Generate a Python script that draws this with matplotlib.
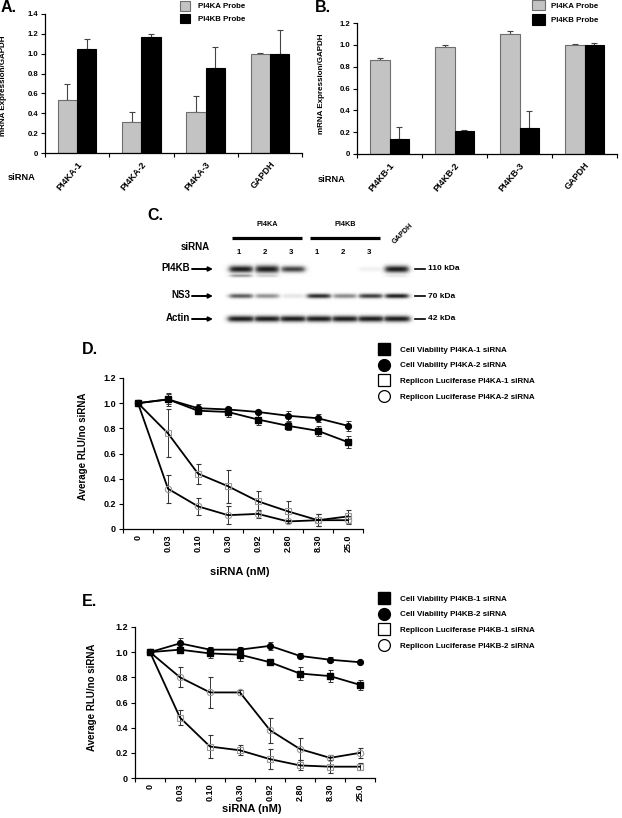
import numpy as np
import matplotlib
matplotlib.use('Agg')
import matplotlib.pyplot as plt
from matplotlib.lines import Line2D
from matplotlib.patches import Patch

plt.rcParams['font.family'] = ['Liberation Sans', 'DejaVu Sans']
plt.rcParams['font.weight'] = 'bold'
plt.rcParams['axes.labelweight'] = 'bold'

# ---------------- data ----------------
probe_labels = ['PI4KA Probe', 'PI4KB Probe']

a_categories = ['PI4KA-1', 'PI4KA-2', 'PI4KA-3', 'GAPDH']
a_pi4ka_probe = [0.53, 0.31, 0.41, 1.00]
a_pi4ka_err = [0.16, 0.10, 0.16, 0.01]
a_pi4kb_probe = [1.05, 1.17, 0.86, 1.00]
a_pi4kb_err = [0.10, 0.03, 0.21, 0.24]
a_yticks = ['0', '0.2', '0.4', '0.6', '0.8', '1.0', '1.2', '1.4']

b_categories = ['PI4KB-1', 'PI4KB-2', 'PI4KB-3', 'GAPDH']
b_pi4ka_probe = [0.86, 0.98, 1.10, 1.00]
b_pi4ka_err = [0.02, 0.02, 0.03, 0.01]
b_pi4kb_probe = [0.14, 0.21, 0.24, 1.00]
b_pi4kb_err = [0.11, 0.01, 0.15, 0.02]
b_yticks = ['0', '0.2', '0.4', '0.6', '0.8', '1.0', '1.2']

# western blot (band darkness per lane: PI4KA-1,2,3, PI4KB-1,2,3, GAPDH)
blot_groups = ['PI4KA', 'PI4KB']
blot_lane_numbers = ['1', '2', '3', '1', '2', '3']
blot_rows = ['PI4KB', 'NS3', 'Actin']
blot_sizes = ['110 kDa', '70 kDa', '42 kDa']
band_pi4kb = [0.88, 1.00, 0.72, 0.00, 0.00, 0.06, 0.88]
band_pi4kb_lower = [0.40, 0.20, 0.00, 0.00, 0.00, 0.00, 0.10]
band_ns3 = [0.62, 0.42, 0.10, 0.82, 0.45, 0.75, 0.88]
band_actin = [0.97, 0.97, 0.97, 0.97, 0.93, 0.94, 0.97]

conc_labels = ['0', '0.03', '0.10', '0.30', '0.92', '2.80', '8.30', '25.0']
d_labels = ['Cell Viability PI4KA-1 siRNA', 'Cell Viability PI4KA-2 siRNA',
            'Replicon Luciferase PI4KA-1 siRNA', 'Replicon Luciferase PI4KA-2 siRNA']
d_via1 = [1.00, 1.03, 0.94, 0.93, 0.87, 0.82, 0.78, 0.69]
d_via1_err = [0.01, 0.04, 0.02, 0.04, 0.04, 0.03, 0.04, 0.05]
d_via2 = [1.00, 1.03, 0.96, 0.95, 0.93, 0.90, 0.88, 0.82]
d_via2_err = [0.01, 0.05, 0.03, 0.02, 0.01, 0.04, 0.03, 0.04]
d_rep1 = [1.00, 0.76, 0.44, 0.34, 0.22, 0.14, 0.07, 0.10]
d_rep1_err = [0.01, 0.19, 0.08, 0.13, 0.08, 0.08, 0.05, 0.05]
d_rep2 = [1.00, 0.32, 0.18, 0.11, 0.12, 0.06, 0.07, 0.07]
d_rep2_err = [0.01, 0.11, 0.07, 0.07, 0.03, 0.01, 0.05, 0.03]

e_labels = ['Cell Viability PI4KB-1 siRNA', 'Cell Viability PI4KB-2 siRNA',
            'Replicon Luciferase PI4KB-1 siRNA', 'Replicon Luciferase PI4KB-2 siRNA']
e_via1 = [1.00, 1.02, 0.99, 0.98, 0.92, 0.83, 0.81, 0.74]
e_via1_err = [0.01, 0.02, 0.04, 0.05, 0.02, 0.05, 0.05, 0.04]
e_via2 = [1.00, 1.07, 1.02, 1.02, 1.05, 0.97, 0.94, 0.92]
e_via2_err = [0.01, 0.04, 0.02, 0.02, 0.03, 0.02, 0.02, 0.01]
e_rep1 = [1.00, 0.48, 0.25, 0.22, 0.15, 0.10, 0.09, 0.09]
e_rep1_err = [0.01, 0.06, 0.09, 0.04, 0.08, 0.04, 0.05, 0.03]
e_rep2 = [1.00, 0.80, 0.68, 0.68, 0.38, 0.23, 0.16, 0.20]
e_rep2_err = [0.01, 0.08, 0.12, 0.02, 0.10, 0.09, 0.02, 0.04]
line_yticks = ['0', '0.2', '0.4', '0.6', '0.8', '1.0', '1.2']

# ---------------- layout ----------------
W, H = 622, 818
fig = plt.figure(figsize=(W / 100, H / 100), dpi=100)

ov = fig.add_axes([0, 0, 1, 1])
ov.set_xlim(0, W)
ov.set_ylim(H, 0)
ov.axis('off')


def px_axes(l, t, r, b):
    return fig.add_axes([l / W, 1 - b / H, (r - l) / W, (b - t) / H])


def style_axes(ax, fs_tick):
    for s in ('top', 'right'):
        ax.spines[s].set_visible(False)
    for s in ('left', 'bottom'):
        ax.spines[s].set_linewidth(0.9)
    ax.tick_params(which='major', direction='out', length=3, width=0.8,
                   labelsize=fs_tick, pad=2)


GRAY = '#c3c3c3'
GRAY_EDGE = '#6e6e6e'


def bar_panel(box, cats, v1, e1, v2, e2, yticks, ymax, lab_pos, sirna_pos):
    ax = px_axes(*box)
    n = len(cats)
    x = np.arange(n) + 0.5
    w = 0.3
    ax.bar(x - w / 2, v1, w, color=GRAY, edgecolor=GRAY_EDGE, lw=0.8, zorder=2)
    ax.bar(x + w / 2, v2, w, color='black', edgecolor='black', lw=0.8, zorder=2)
    z = np.zeros(n)
    ax.errorbar(x - w / 2, v1, yerr=[z, e1], fmt='none', ecolor='#444444',
                elinewidth=0.8, capsize=2.2, capthick=0.8, zorder=1)
    ax.errorbar(x + w / 2, v2, yerr=[z, e2], fmt='none', ecolor='#444444',
                elinewidth=0.8, capsize=2.2, capthick=0.8, zorder=1)
    ax.set_xlim(0, n)
    ax.set_ylim(0, ymax)
    ax.set_yticks(np.arange(len(yticks)) * 0.2)
    ax.set_yticklabels(yticks)
    ax.set_xticks(np.arange(n + 1))
    ax.set_xticklabels([])
    ax.set_xticks(x, minor=True)
    ax.set_xticklabels(cats, minor=True, rotation=50, ha='right', va='top',
                       rotation_mode='anchor', fontsize=6.5)
    style_axes(ax, 5.6)
    ax.tick_params(which='minor', length=0, pad=5)
    l, t, r, b = box
    ax.set_ylabel('mRNA Expression/GAPDH', fontsize=5.8)
    ax.yaxis.set_label_coords((lab_pos[0] - l) / (r - l), (b - lab_pos[1]) / (b - t))
    ov.text(sirna_pos[0], sirna_pos[1], 'siRNA', fontsize=6.7, ha='center', va='center')
    return ax


# Panel A
bar_panel((45, 14, 302, 153), a_categories, a_pi4ka_probe, a_pi4ka_err,
          a_pi4kb_probe, a_pi4kb_err, a_yticks, 1.4, (7, 86), (22, 177))
ov.text(1, 8, 'A.', fontsize=11.5, ha='left', va='center')
hA = [Patch(facecolor=GRAY, edgecolor=GRAY_EDGE, lw=0.8),
      Patch(facecolor='black', edgecolor='black', lw=0.8)]
fig.legend(hA, probe_labels, loc='upper left', bbox_to_anchor=(180 / W, 1 - 1 / H),
           frameon=False, fontsize=5.7, handlelength=1.3, handleheight=1.5,
           handletextpad=1.0, labelspacing=0.4, borderpad=0, borderaxespad=0)

# Panel B
bar_panel((357, 23, 617, 154), b_categories, b_pi4ka_probe, b_pi4ka_err,
          b_pi4kb_probe, b_pi4kb_err, b_yticks, 1.2, (325, 84), (332, 180))
ov.text(315, 8, 'B.', fontsize=11.5, ha='left', va='center')
fig.legend(hA, probe_labels, loc='upper left', bbox_to_anchor=(532 / W, 1 - 0 / H),
           frameon=False, fontsize=5.7, handlelength=1.6, handleheight=1.65,
           handletextpad=0.75, labelspacing=0.5, borderpad=0, borderaxespad=0)

# ---------------- Panel C: western blot ----------------
ov.text(147, 216, 'C.', fontsize=11.5, ha='left', va='center')
lane_x0, lane_dx = 241, 26.0
n_lanes = len(band_pi4kb)
lane_x = lane_x0 + lane_dx * np.arange(n_lanes)
row_y = {'PI4KB': 269, 'NS3': 296, 'Actin': 319}

gx0, gx1, gy0, gy1 = 222, 414, 256, 332
X, Y = np.meshgrid(np.linspace(gx0, gx1, 384), np.linspace(gy0, gy1, 152))
dark = np.zeros_like(X)


def add_band(amps, yc, sy, hw, swell=0.0):
    global dark
    for xc, a in zip(lane_x, amps):
        s = sy * (1.0 + swell * a * a)
        gx = 1.0 / (1.0 + np.exp((np.abs(X - xc) - hw) / 1.6))
        gy = np.exp(-((Y - yc) / s) ** 2)
        dark = np.maximum(dark, min(1.0, a * 1.15) * gx * gy)


add_band(band_pi4kb, row_y['PI4KB'], 2.4, 11.5, swell=0.6)
add_band(band_pi4kb_lower, row_y['PI4KB'] + 6.5, 1.6, 10.5)
add_band(band_ns3, row_y['NS3'], 2.3, 11.5)
add_band(band_actin, row_y['Actin'], 3.1, 13.0)
img = 1 - 0.9 * np.clip(dark, 0, 1)
ov.imshow(img, cmap='gray', vmin=0, vmax=1, extent=(gx0, gx1, gy1, gy0),
          aspect='auto', interpolation='bilinear')
ov.set_xlim(0, W)
ov.set_ylim(H, 0)

# group headers
for gi, g in enumerate(blot_groups):
    xs = lane_x[gi * 3:(gi + 1) * 3]
    ov.plot([xs[0] - 9, xs[-1] + 9], [238, 238], color='black', lw=2.3,
            solid_capstyle='butt')
    ov.text(xs.mean(), 225, g, fontsize=5.2, ha='center', va='center')
for lx, lab in zip(lane_x[:6], blot_lane_numbers):
    ov.text(lx - 2, 252, lab, fontsize=5.6, ha='center', va='center')
ov.text(lane_x[6] + 6, 234, 'GAPDH', fontsize=5.2, ha='center', va='center', rotation=45)
ov.text(210, 247, 'siRNA', fontsize=7, ha='right', va='center')
for name, size in zip(blot_rows, blot_sizes):
    yy = row_y[name]
    ov.text(190, yy - 1, name, fontsize=7, ha='right', va='center')
    ov.annotate('', xy=(213, yy), xytext=(192, yy),
                arrowprops=dict(arrowstyle='-|>', lw=1.4, color='black',
                                mutation_scale=6, shrinkA=0, shrinkB=0))
    ov.plot([415, 425], [yy, yy], color='black', lw=1.2)
    ov.text(428, yy, size, fontsize=6.0, ha='left', va='center')


# ---------------- line panels ----------------
def line_panel(box, series, labels, ylab_pos, xlab_pos, letter_pos, leg_top, letter):
    ax = px_axes(*box)
    x = np.arange(len(conc_labels)) + 0.5
    styles = [dict(marker='s', ms=4.2, mfc='black', mec='black'),
              dict(marker='o', ms=4.2, mfc='black', mec='black'),
              dict(marker='s', ms=4.6, mfc='none', mec='#9a9a9a', mew=0.8),
              dict(marker='o', ms=4.6, mfc='none', mec='#9a9a9a', mew=0.8)]
    order = [2, 3, 0, 1]
    for i in order:
        vals, errs = series[i]
        ax.errorbar(x, vals, yerr=errs, color='black', lw=1.3, ecolor='#333333',
                    elinewidth=0.7, capsize=1.8, capthick=0.7, zorder=3, **styles[i])
    ax.set_xlim(0, len(conc_labels))
    ax.set_ylim(0, 1.2)
    ax.set_yticks(np.arange(len(line_yticks)) * 0.2)
    ax.set_yticklabels(line_yticks)
    ax.set_xticks(np.arange(len(conc_labels) + 1))
    ax.set_xticklabels([])
    ax.set_xticks(x, minor=True)
    ax.set_xticklabels(conc_labels, minor=True, rotation=90, ha='center', va='top',
                       fontsize=6.5)
    style_axes(ax, 6.5)
    ax.tick_params(which='minor', length=0, pad=4)
    l, t, r, b = box
    ax.set_ylabel('Average RLU/no siRNA', fontsize=7)
    ax.yaxis.set_label_coords((ylab_pos[0] - l) / (r - l), (b - ylab_pos[1]) / (b - t))
    ov.text(xlab_pos[0], xlab_pos[1], 'siRNA (nM)', fontsize=8, ha='center', va='center')
    ov.text(letter_pos[0], letter_pos[1], letter, fontsize=11.5, ha='left', va='center')
    handles = [Line2D([], [], ls='none', marker='s', ms=8, mfc='black', mec='black'),
               Line2D([], [], ls='none', marker='o', ms=8.5, mfc='black', mec='black'),
               Line2D([], [], ls='none', marker='s', ms=8, mfc='white', mec='black', mew=0.9),
               Line2D([], [], ls='none', marker='o', ms=8.5, mfc='white', mec='black', mew=0.9)]
    fig.legend(handles, labels, loc='upper left',
               bbox_to_anchor=(378 / W, 1 - leg_top / H), frameon=False,
               fontsize=5.8, handlelength=1.5, handletextpad=1.25,
               labelspacing=1.0, borderpad=0, borderaxespad=0)
    return ax


line_panel((123, 378, 363, 529),
           [(d_via1, d_via1_err), (d_via2, d_via2_err), (d_rep1, d_rep1_err), (d_rep2, d_rep2_err)],
           d_labels, (88, 446), (240, 572), (82, 350), 346, 'D.')
line_panel((135, 627, 375, 778),
           [(e_via1, e_via1_err), (e_via2, e_via2_err), (e_rep1, e_rep1_err), (e_rep2, e_rep2_err)],
           e_labels, (97, 697), (252, 809), (82, 602), 595, 'E.')

fig.savefig('out.png', dpi=100)
